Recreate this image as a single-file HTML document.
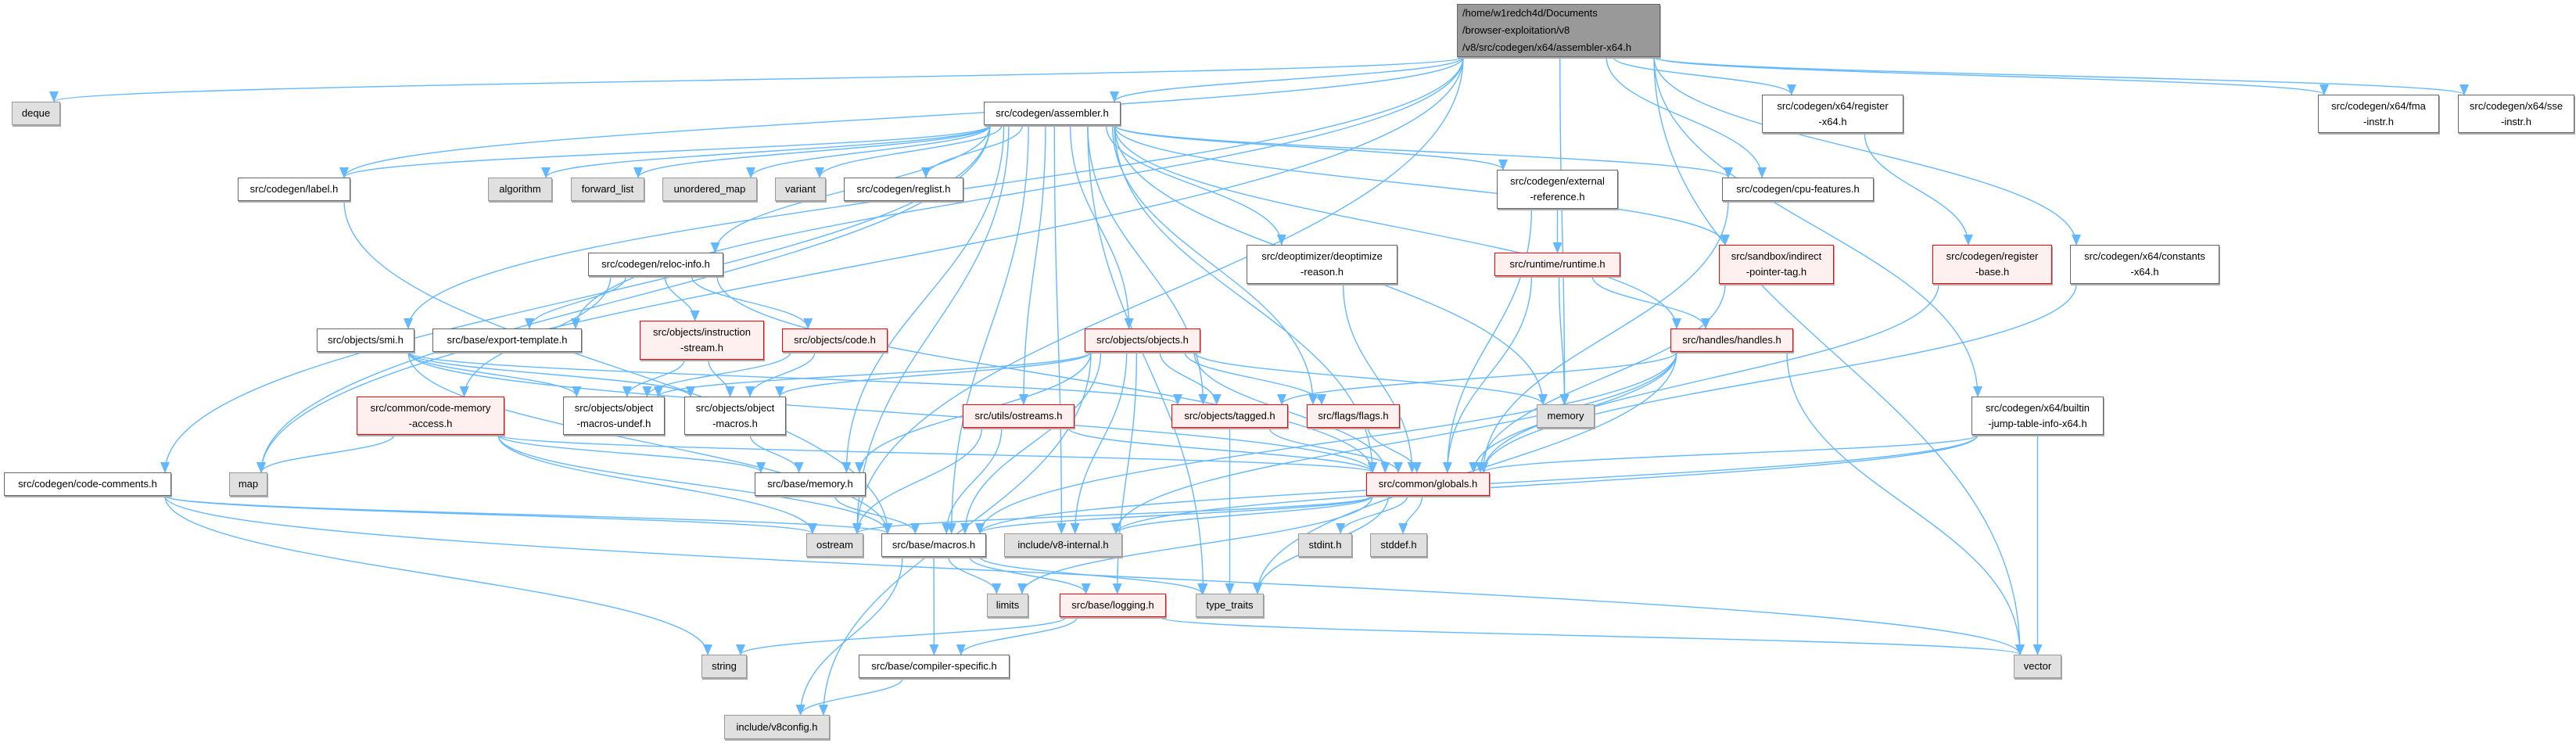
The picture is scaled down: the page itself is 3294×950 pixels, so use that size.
<!DOCTYPE html>
<html><head><meta charset="utf-8">
<style>
html,body{margin:0;padding:0;background:#fff;}
#wrap{position:relative;width:3294px;height:950px;overflow:hidden;background:#fff;}
svg{position:absolute;left:0;top:0;}
.n{position:absolute;box-sizing:border-box;border:1.5px solid #666;background:#fff;font-family:"Liberation Sans",sans-serif;font-size:13px;color:#000;display:flex;flex-direction:column;justify-content:center;align-items:center;line-height:20px;white-space:nowrap;box-shadow:1px 2px 0 #aaa;}
.g{background:#e0e0e0;border-color:#999;}
.r{background:#fff0f0;border-color:#f00;}
.m{background:#999;border-color:#666;align-items:flex-start;padding-left:6px;line-height:22px;}
</style></head><body>
<div id="wrap">
<svg id="edges" width="3294" height="950" viewBox="0 0 3294 950">
<defs><marker id="a" markerUnits="userSpaceOnUse" markerWidth="14" markerHeight="12" refX="13" refY="6" orient="auto"><path d="M0,0 L14,6 L0,12 z" fill="#63b8ff"/></marker></defs>
<g id="eg" fill="none" stroke="#63b8ff" stroke-width="1.4"></g>
</svg>
<div class="n m" id="main" style="left:1863px;top:5px;width:260px;height:68px"><div>/home/w1redch4d/Documents</div><div>/browser-exploitation/v8</div><div>/v8/src/codegen/x64/assembler-x64.h</div></div>
<div class="n g" id="deque" style="left:15px;top:130px;width:62px;height:30px">deque</div>
<div class="n" id="assembler" style="left:1258px;top:130px;width:175px;height:30px">src/codegen/assembler.h</div>
<div class="n" id="reg64" style="left:2253px;top:121px;width:181px;height:49px"><div>src/codegen/x64/register</div><div>-x64.h</div></div>
<div class="n" id="fma" style="left:2964px;top:121px;width:155px;height:49px"><div>src/codegen/x64/fma</div><div>-instr.h</div></div>
<div class="n" id="sse" style="left:3143px;top:121px;width:149px;height:49px"><div>src/codegen/x64/sse</div><div>-instr.h</div></div>
<div class="n" id="label" style="left:304px;top:227px;width:144px;height:30px">src/codegen/label.h</div>
<div class="n g" id="algorithm" style="left:624px;top:227px;width:82px;height:30px">algorithm</div>
<div class="n g" id="fwd" style="left:730px;top:227px;width:94px;height:30px">forward_list</div>
<div class="n g" id="umap" style="left:847px;top:227px;width:121px;height:30px">unordered_map</div>
<div class="n g" id="variant" style="left:991px;top:227px;width:65px;height:30px">variant</div>
<div class="n" id="reglist" style="left:1079px;top:227px;width:153px;height:30px">src/codegen/reglist.h</div>
<div class="n" id="extref" style="left:1914px;top:217px;width:155px;height:50px"><div>src/codegen/external</div><div>-reference.h</div></div>
<div class="n" id="cpu" style="left:2202px;top:227px;width:194px;height:30px">src/codegen/cpu-features.h</div>
<div class="n" id="reloc" style="left:752px;top:323px;width:173px;height:30px">src/codegen/reloc-info.h</div>
<div class="n" id="deopt" style="left:1594px;top:313px;width:193px;height:50px"><div>src/deoptimizer/deoptimize</div><div>-reason.h</div></div>
<div class="n r" id="runtime" style="left:1911px;top:323px;width:161px;height:30px">src/runtime/runtime.h</div>
<div class="n r" id="sandbox" style="left:2198px;top:313px;width:147px;height:50px"><div>src/sandbox/indirect</div><div>-pointer-tag.h</div></div>
<div class="n r" id="regbase" style="left:2471px;top:313px;width:153px;height:50px"><div>src/codegen/register</div><div>-base.h</div></div>
<div class="n" id="const" style="left:2647px;top:313px;width:191px;height:50px"><div>src/codegen/x64/constants</div><div>-x64.h</div></div>
<div class="n" id="smi" style="left:405px;top:420px;width:125px;height:30px">src/objects/smi.h</div>
<div class="n" id="export" style="left:553px;top:420px;width:191px;height:30px">src/base/export-template.h</div>
<div class="n r" id="instr" style="left:818px;top:410px;width:159px;height:50px"><div>src/objects/instruction</div><div>-stream.h</div></div>
<div class="n r" id="code" style="left:1000px;top:420px;width:135px;height:30px">src/objects/code.h</div>
<div class="n r" id="objects" style="left:1387px;top:420px;width:148px;height:30px">src/objects/objects.h</div>
<div class="n r" id="handles" style="left:2136px;top:420px;width:157px;height:30px">src/handles/handles.h</div>
<div class="n" id="builtin" style="left:2521px;top:507px;width:169px;height:49px"><div>src/codegen/x64/builtin</div><div>-jump-table-info-x64.h</div></div>
<div class="n r" id="cma" style="left:456px;top:507px;width:189px;height:49px"><div>src/common/code-memory</div><div>-access.h</div></div>
<div class="n" id="undef" style="left:720px;top:507px;width:130px;height:49px"><div>src/objects/object</div><div>-macros-undef.h</div></div>
<div class="n" id="omacros" style="left:875px;top:507px;width:130px;height:49px"><div>src/objects/object</div><div>-macros.h</div></div>
<div class="n r" id="ostreams" style="left:1231px;top:517px;width:143px;height:30px">src/utils/ostreams.h</div>
<div class="n r" id="tagged" style="left:1498px;top:517px;width:149px;height:30px">src/objects/tagged.h</div>
<div class="n r" id="flags" style="left:1671px;top:517px;width:119px;height:30px">src/flags/flags.h</div>
<div class="n g" id="memory" style="left:1965px;top:517px;width:74px;height:30px">memory</div>
<div class="n" id="comments" style="left:5px;top:604px;width:214px;height:30px">src/codegen/code-comments.h</div>
<div class="n g" id="map" style="left:293px;top:604px;width:49px;height:30px">map</div>
<div class="n" id="memoryh" style="left:965px;top:604px;width:142px;height:30px">src/base/memory.h</div>
<div class="n r" id="globals" style="left:1747px;top:604px;width:158px;height:30px">src/common/globals.h</div>
<div class="n g" id="ostream" style="left:1031px;top:682px;width:73px;height:30px">ostream</div>
<div class="n" id="macros" style="left:1127px;top:682px;width:134px;height:30px">src/base/macros.h</div>
<div class="n g" id="v8int" style="left:1284px;top:682px;width:151px;height:30px">include/v8-internal.h</div>
<div class="n g" id="stdint" style="left:1660px;top:682px;width:69px;height:30px">stdint.h</div>
<div class="n g" id="stddef" style="left:1752px;top:682px;width:73px;height:30px">stddef.h</div>
<div class="n g" id="limits" style="left:1262px;top:759px;width:53px;height:30px">limits</div>
<div class="n r" id="logging" style="left:1355px;top:759px;width:136px;height:30px">src/base/logging.h</div>
<div class="n g" id="traits" style="left:1529px;top:759px;width:87px;height:30px">type_traits</div>
<div class="n g" id="string" style="left:897px;top:837px;width:58px;height:30px">string</div>
<div class="n" id="cspec" style="left:1098px;top:837px;width:193px;height:30px">src/base/compiler-specific.h</div>
<div class="n g" id="vector" style="left:2575px;top:837px;width:61px;height:30px">vector</div>
<div class="n g" id="v8config" style="left:926px;top:914px;width:135px;height:31px">include/v8config.h</div>
</div>
<script>
var E={
main:"deque map label smi export assembler memory reg64 cpu const builtin fma sse vector ostream",
assembler:"label algorithm fwd umap variant reglist extref cpu reloc deopt objects ostreams memoryh macros globals memory flags tagged handles sandbox comments map ostream traits v8int",
extref:"runtime globals",cpu:"globals",reg64:"regbase",regbase:"globals",const:"globals",sandbox:"globals",deopt:"globals",
runtime:"handles memory globals",handles:"tagged globals v8int traits vector macros",
reloc:"export instr code cma globals",label:"macros",smi:"undef omacros globals tagged macros",
instr:"undef omacros",code:"undef omacros",
objects:"undef omacros tagged flags memory globals memoryh v8int logging v8config macros",
cma:"map memoryh globals macros ostream",omacros:"memoryh",memoryh:"macros",
ostreams:"globals macros ostream",tagged:"globals traits",flags:"globals",
builtin:"globals v8int macros vector",comments:"macros ostream string vector",
globals:"macros v8int stdint stddef limits traits ostream",
macros:"limits logging traits cspec v8config",logging:"cspec string vector",cspec:"v8config"};
function box(id){var e=document.getElementById(id);return{x1:e.offsetLeft,y1:e.offsetTop,x2:e.offsetLeft+e.offsetWidth,y2:e.offsetTop+e.offsetHeight,cx:e.offsetLeft+e.offsetWidth/2,cy:e.offsetTop+e.offsetHeight/2};}
function cl(v,a,b){return Math.max(a,Math.min(b,v));}
var g=document.getElementById('eg'),h='';
for(var s in E){var S=box(s);E[s].split(' ').forEach(function(d){var D=box(d),p;
 if(D.y1>S.y2+10){var sx=cl(S.cx+(D.cx-S.cx)*0.2,S.x1+8,S.x2-8),sy=S.y2,ex=cl(D.cx+(S.cx-D.cx)*0.15,D.x1+8,D.x2-8),ey=D.y1,dy=ey-sy;
  p='M'+sx+','+sy+' C'+sx+','+(sy+dy*0.45)+' '+ex+','+(ey-dy*0.45)+' '+ex+','+ey;}
 else{var sx,ex;if(D.cx>S.cx){sx=S.x2;ex=D.x1;}else{sx=S.x1;ex=D.x2;}var sy=S.cy,ey=D.cy,dx=ex-sx;
  p='M'+sx+','+sy+' C'+(sx+dx*0.4)+','+sy+' '+(ex-dx*0.4)+','+ey+' '+ex+','+ey;}
 h+='<path d="'+p+'" marker-end="url(#a)"/>';});}
g.innerHTML=h;
</script>
</body></html>
